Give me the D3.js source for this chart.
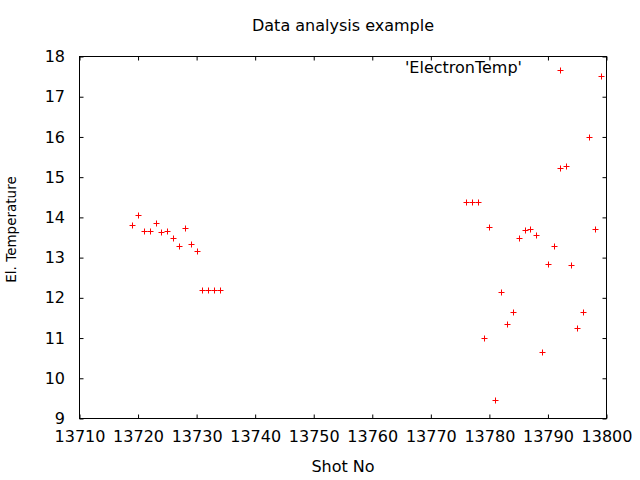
<!DOCTYPE html>
<html>
    <head>
        <meta charset="utf-8" />
        <title>Data analysis example</title>
        <script src="https://d3js.org/d3.v7.min.js"></script>
        <style>
            body { margin: 0; background: #fff; }
            text { font-family: "DejaVu Sans", sans-serif; }
        </style>
    </head>
    <body>
        <div id="chart"></div>

    <script>

        // shot numbers and electron temperature
        const shots = [13719, 13720, 13721, 13722, 13723, 13724, 13725, 13726,
                       13727, 13728, 13729, 13730, 13731, 13732, 13733, 13734,
                       13776, 13777, 13778, 13779, 13780, 13781, 13782, 13783,
                       13784, 13785, 13786, 13787, 13788, 13789, 13790, 13791,
                       13792, 13793, 13794, 13795, 13796, 13797, 13798, 13799]
        const temps = [13.82, 14.07, 13.66, 13.66, 13.87, 13.64, 13.66, 13.49,
                       13.30, 13.74, 13.35, 13.17, 12.19, 12.19, 12.19, 12.19,
                       14.39, 14.39, 14.39, 11.01, 13.77, 9.45, 12.15, 11.36,
                       11.66, 13.49, 13.69, 13.72, 13.55, 10.66, 12.83, 13.29,
                       15.23, 15.29, 12.81, 11.26, 11.64, 16.01, 13.72, 17.51]

        const xTicks = [13710, 13720, 13730, 13740, 13750, 13760, 13770, 13780, 13790, 13800]
        const yTicks = [9, 10, 11, 12, 13, 14, 15, 16, 17, 18]

        const title = "Data analysis example"
        const xLabel = "Shot No"
        const yLabel = "El. Temperature"
        const keyLabel = "'ElectronTemp'"

        const W = 640, H = 480
        const plot = {left: 79.5, right: 606.5, top: 56.5, bottom: 418.5}

        const svg = d3.select("#chart")
                        .append("svg")
                            .attr("width", W)
                            .attr("height", H)

        const x = d3.scaleLinear().domain([13710, 13800]).range([plot.left, plot.right])
        const y = d3.scaleLinear().domain([9, 18]).range([plot.bottom, plot.top])

        const data = shots.map((s, i) => ({shot: s, temp: temps[i]}))

        function styleAxis(g, hideText) {
            g.select(".domain").remove()
            g.selectAll(".tick line").attr("stroke", "#000")
            g.selectAll(".tick text")
                .attr("fill", "#000")
                .style("font-size", "16px")
                .style("font-family", "DejaVu Sans")
            if (hideText) g.selectAll(".tick text").remove()
        }

        // inward ticks on all four sides
        svg.append("g")
            .attr("transform", `translate(0,${plot.bottom})`)
            .call(d3.axisBottom(x).tickValues(xTicks).tickSize(-4).tickPadding(12).tickFormat(d3.format("d")))
            .call(g => styleAxis(g, false))

        svg.append("g")
            .attr("transform", `translate(0,${plot.top})`)
            .call(d3.axisTop(x).tickValues(xTicks).tickSize(-4))
            .call(g => styleAxis(g, true))

        svg.append("g")
            .attr("transform", `translate(${plot.left},0)`)
            .call(d3.axisLeft(y).tickValues(yTicks).tickSize(-4).tickPadding(14.5).tickFormat(d3.format("d")))
            .call(g => styleAxis(g, false))

        svg.append("g")
            .attr("transform", `translate(${plot.right},0)`)
            .call(d3.axisRight(y).tickValues(yTicks).tickSize(-4))
            .call(g => styleAxis(g, true))

        svg.append("rect")
            .attr("x", plot.left)
            .attr("y", plot.top)
            .attr("width", plot.right - plot.left)
            .attr("height", plot.bottom - plot.top)
            .attr("fill", "none")
            .attr("stroke", "#000")
            .attr("stroke-width", 1)

        const plus = "M-3,0H3M0,-3V3"

        svg.append("g")
            .selectAll("path")
            .data(data)
            .join("path")
                .attr("d", plus)
                .attr("transform", d => `translate(${Math.round(x(d.shot)) + 0.5},${Math.round(y(d.temp)) + 0.5})`)
                .attr("stroke", "#ff0000")
                .attr("stroke-width", 1)
                .attr("fill", "none")

        // key
        const keyX = 522, keyY = 73
        svg.append("text")
            .attr("x", keyX)
            .attr("y", keyY)
            .attr("text-anchor", "end")
            .style("font-size", "16px")
            .text(keyLabel)
        svg.append("path")
            .attr("d", plus)
            .attr("transform", `translate(${keyX + 38.5},${keyY - 2.5})`)
            .attr("stroke", "#ff0000")
            .attr("fill", "none")

        svg.append("text")
            .attr("x", (plot.left + plot.right) / 2)
            .attr("y", 31)
            .attr("text-anchor", "middle")
            .style("font-size", "16px")
            .text(title)

        svg.append("text")
            .attr("x", (plot.left + plot.right) / 2)
            .attr("y", 472)
            .attr("text-anchor", "middle")
            .style("font-size", "16px")
            .text(xLabel)

        // rotated label comes out a little smaller and higher in the original
        svg.append("text")
            .attr("transform", `translate(16,${(plot.top + plot.bottom) / 2 - 8}) rotate(-90)`)
            .attr("text-anchor", "middle")
            .style("font-size", "13.5px")
            .text(yLabel)

    </script>
    </body>
</html>
